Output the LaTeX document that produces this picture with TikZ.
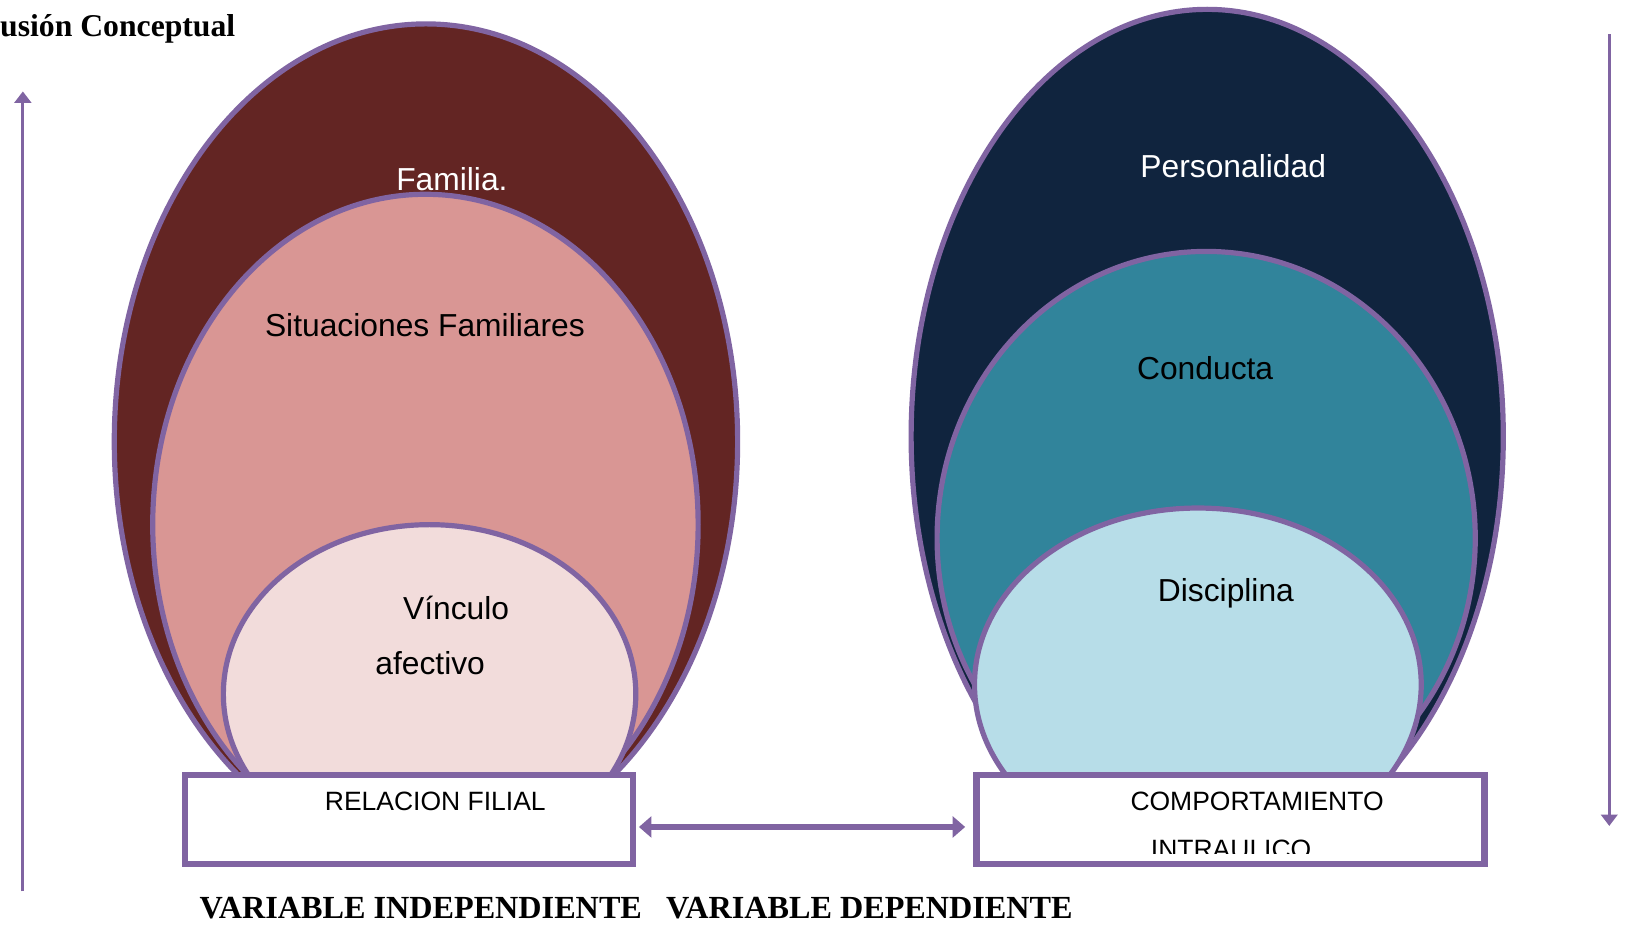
\documentclass[tikz,border=0pt]{standalone}
\usepackage{fontspec}
\setmainfont{Liberation Sans}
\newfontfamily\serifb{Liberation Serif}
\usetikzlibrary{shapes.geometric,arrows.meta}
\definecolor{vio}{HTML}{8064A2}
\definecolor{maroon}{HTML}{632523}
\definecolor{rosa}{HTML}{D99694}
\definecolor{rosaclaro}{HTML}{F2DCDB}
\definecolor{navy}{HTML}{10243E}
\definecolor{teal}{HTML}{31849B}
\definecolor{celeste}{HTML}{B7DDE8}
\begin{document}
\begin{tikzpicture}[x=1pt,y=-1pt,
  ring/.style={ellipse, draw=vio, line width=5pt, inner sep=0pt},
  lbl/.style={anchor=base, inner sep=0pt, font=\fontsize{30.6}{36}\selectfont},
  varbox/.style={rectangle, draw=vio, line width=6pt, fill=white, inner sep=0pt},
  boxtxt/.style={anchor=base, inner sep=0pt, font=\fontsize{25.5}{30}\selectfont},
  heading/.style={anchor=base west, inner sep=0pt, font=\serifb\bfseries\fontsize{30.5}{36}\selectfont},
  vline/.style={draw=vio, line width=3pt, -{Triangle[length=11pt,width=16pt]}},
  link/.style={draw=vio, line width=5pt, {Triangle[length=12pt,width=20pt]}-{Triangle[length=12pt,width=20pt]}}]
\useasboundingbox[fill=white] (0,0) rectangle (1568,890);

% title
\node[heading] (title) at (0,35.5) {usión Conceptual};

% side arrows
\coordinate (lbot) at (22,858);
\coordinate (ltop) at (22,88);
\draw[vline] (lbot) -- (ltop);
\coordinate (rtop) at (1549,33);
\coordinate (rbot) at (1549,795);
\draw[vline, line width=2.5pt] (rtop) -- (rbot);

% left group
\node[ring, fill=maroon, minimum width=600pt, minimum height=804pt] (fam) at (410,425) {};
\node[ring, fill=rosa, minimum width=525pt, minimum height=636pt] (sit) at (409.5,505) {};
\node[ring, fill=rosaclaro, minimum width=397pt, minimum height=326pt] (vin) at (413.5,668) {};
\node[lbl, text=white] (tfam) at (435,183) {Familia.};
\node[lbl] (tsit) at (409,324) {Situaciones Familiares};
\node[lbl] (tvin1) at (439,596) {Vínculo};
\node[lbl] (tvin2) at (414,649) {afectivo};

% right group
\node[ring, fill=navy, minimum width=570pt, minimum height=822pt] (per) at (1162,420) {};
\node[ring, fill=teal, minimum width=518pt, minimum height=552pt] (con) at (1161,518) {};
\node[ring, fill=celeste, minimum width=430pt, minimum height=340pt] (dis) at (1153,659) {};
\node[lbl, text=white] (tper) at (1187,171) {Personalidad};
\node[lbl] (tcon) at (1160,365) {Conducta};
\node[lbl] (tdis) at (1180,579) {Disciplina};

% boxes
\node[varbox, minimum width=431pt, minimum height=86pt] (rel) at (393.5,789) {};
\node[varbox, minimum width=489pt, minimum height=86pt] (comp) at (1184.5,789) {};
\node[boxtxt] (trel) at (419,780) {RELACION FILIAL};
\node[boxtxt] (tcomp1) at (1210,780) {COMPORTAMIENTO};
\begin{scope}
  \clip (1000,790) rectangle (1400,822);
  \node[boxtxt] (tcomp2) at (1185,826) {INTRAULICO};
\end{scope}

% link
\draw[link] ([yshift=-7pt]rel.east) ++(3,0) coordinate (la) -- ([yshift=-7pt,xshift=-8pt]comp.west) coordinate (lb);

% bottom labels
\node[heading, font=\serifb\bfseries\fontsize{31}{36}\selectfont] (vind) at (192,884) {VARIABLE INDEPENDIENTE};
\node[heading, font=\serifb\bfseries\fontsize{31}{36}\selectfont] (vdep) at (641,884) {VARIABLE DEPENDIENTE};
\end{tikzpicture}
\end{document}
